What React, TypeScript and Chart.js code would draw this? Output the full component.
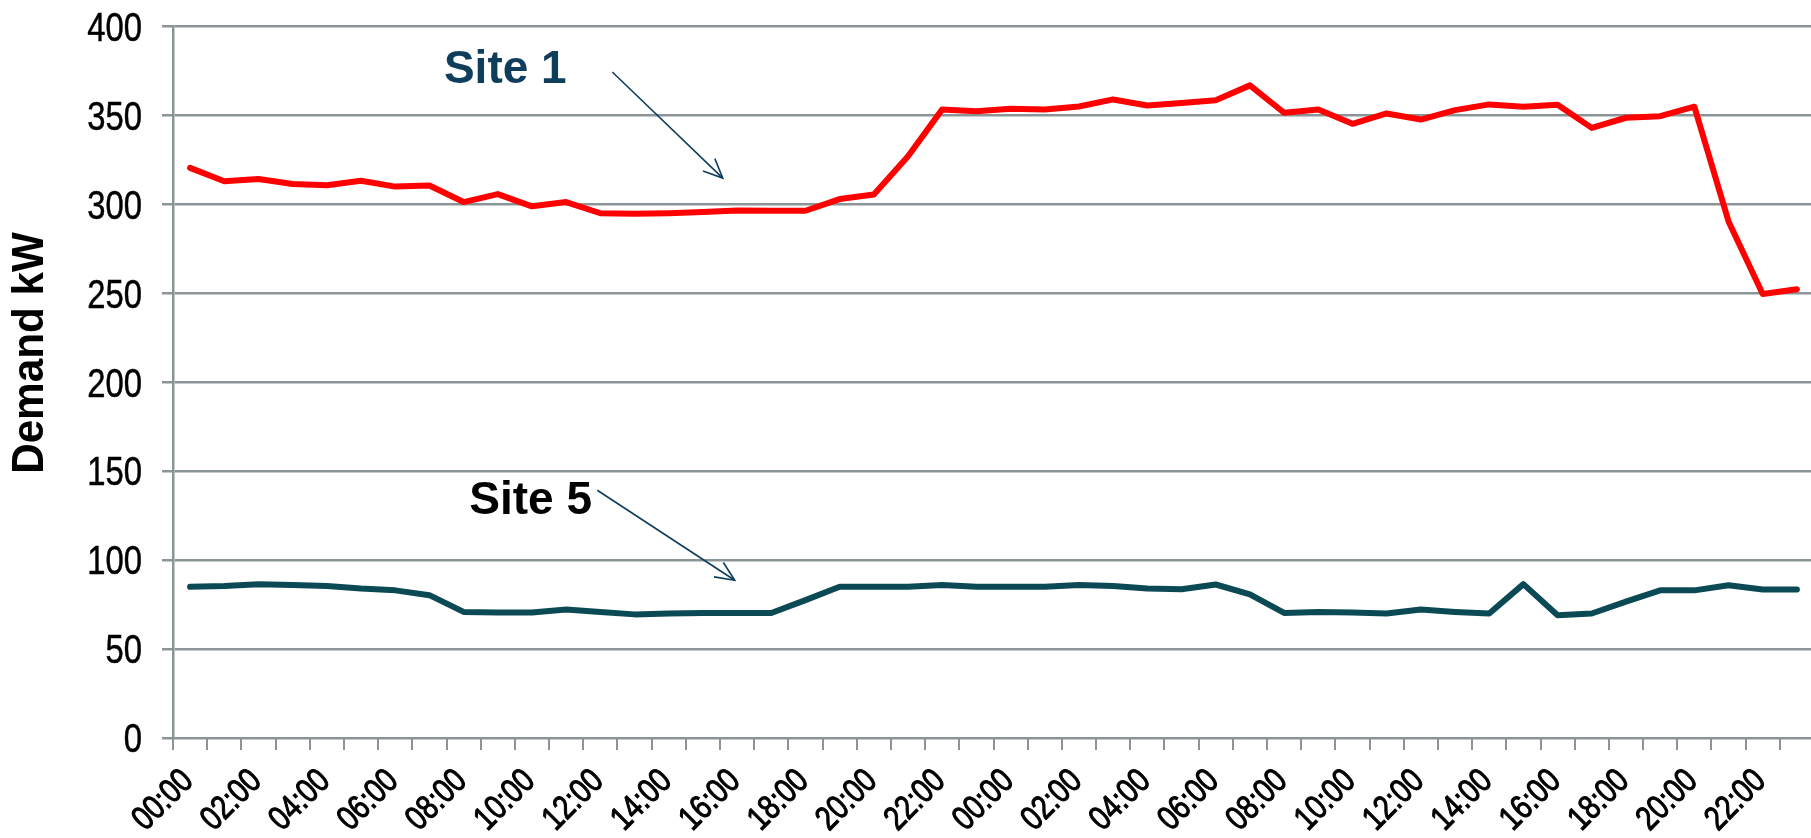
import React, { useEffect, useRef } from 'react';
import { Chart, registerables } from 'chart.js';

Chart.register(...registerables);

const HOURS = [
  '00:00', '01:00', '02:00', '03:00', '04:00', '05:00', '06:00', '07:00',
  '08:00', '09:00', '10:00', '11:00', '12:00', '13:00', '14:00', '15:00',
  '16:00', '17:00', '18:00', '19:00', '20:00', '21:00', '22:00', '23:00',
];
const CATEGORIES = [...HOURS, ...HOURS];

const SITE1 = [
  320.5, 313, 314.3, 311.5, 310.7, 313.3, 310, 310.6, 301.3, 305.8, 298.9, 301.3,
  295, 294.7, 295, 295.7, 296.6, 296.4, 296.4, 303, 305.5, 327, 353.4, 352.4,
  353.8, 353.4, 355, 359, 355.6, 357, 358.6, 366.9, 351.5, 353.4, 345.3, 351.1,
  347.7, 353, 356.2, 354.9, 356, 343, 348.7, 349.6, 354.9, 290.4, 249.6, 252.3,
];
const SITE5 = [
  85, 85.5, 86.5, 86, 85.5, 84, 83, 80.3, 70.9, 70.5, 70.5, 72.2,
  70.9, 69.5, 70, 70.3, 70.3, 70.3, 77.5, 85, 85, 85, 86, 85,
  85, 85, 86, 85.5, 84, 83.6, 86.3, 80.8, 70.3, 70.9, 70.5, 70,
  72.2, 70.9, 70, 86.5, 69, 70, 76.7, 83, 83, 85.9, 83.5, 83.5,
];
const SERIES_NAMES = ['Site 1', 'Site 5'];
const Y_MIN = 0;
const Y_MAX = 400;
const Y_STEP = 50;
const Y_TITLE = 'Demand kW';

const W = 1811;
const H = 838;
const CANVAS_W = 1814;
const GRID = '#8b9597';
const RED = '#ff0000';
const TEAL = '#0b4a55';
const NAVY = '#0f3d5c';
const NARROW = 0.82;

// annotation anchors in data space (category index, value)
const NOTES = [
  { text: 'Site 1', color: NAVY, at: [9.22, 375.3], from: [12.35, 374.4], to: [15.58, 314.8] },
  { text: 'Site 5', color: '#000000', at: [9.96, 132.8], from: [11.91, 139.3], to: [15.93, 88.7] },
];

const drawPlugin = {
  id: 'customText',
  afterDraw(chart: any) {
    const { ctx, scales, chartArea } = chart;
    const x = scales.x;
    const y = scales.y;
    ctx.save();

    // y tick labels (narrow face)
    ctx.fillStyle = '#000';
    ctx.strokeStyle = '#000';
    ctx.lineWidth = 0.5;
    ctx.font = '40px "Liberation Sans", Arial, sans-serif';
    ctx.textAlign = 'right';
    ctx.textBaseline = 'alphabetic';
    for (const t of y.ticks) {
      const py = y.getPixelForValue(t.value);
      ctx.save();
      ctx.translate(chartArea.left - 31, py + 14.3);
      ctx.scale(NARROW, 1);
      ctx.fillText(String(t.value), 0, 0);
      ctx.strokeText(String(t.value), 0, 0);
      ctx.restore();
    }

    // x tick labels, every second category, rotated 45°
    ctx.font = '34px "Liberation Sans", Arial, sans-serif';
    ctx.lineWidth = 1.1;
    CATEGORIES.forEach((lab, i) => {
      if (i % 2 !== 0) return;
      const px = x.getPixelForValue(i);
      ctx.save();
      ctx.translate(px + 4.5, chartArea.bottom + 44.5);
      ctx.rotate(-Math.PI / 4);
      ctx.scale(NARROW, 1);
      ctx.fillText(lab, 0, 0);
      ctx.strokeText(lab, 0, 0);
      ctx.restore();
    });

    // y title
    ctx.save();
    ctx.translate(31, 353);
    ctx.rotate(-Math.PI / 2);
    ctx.scale(0.96, 1);
    ctx.font = 'bold 44px "Liberation Sans", Arial, sans-serif';
    ctx.fillStyle = '#000';
    ctx.textAlign = 'center';
    ctx.textBaseline = 'middle';
    ctx.fillText(Y_TITLE, 0, 0);
    ctx.restore();

    for (const n of NOTES) {
      const tx = x.getPixelForValue(n.at[0]);
      const ty = y.getPixelForValue(n.at[1]);
      ctx.font = 'bold 46px "Liberation Sans", Arial, sans-serif';
      ctx.fillStyle = n.color;
      ctx.textAlign = 'center';
      ctx.textBaseline = 'middle';
      ctx.fillText(n.text, tx, ty);

      const x0 = x.getPixelForValue(n.from[0]);
      const y0 = y.getPixelForValue(n.from[1]);
      const x1 = x.getPixelForValue(n.to[0]);
      const y1 = y.getPixelForValue(n.to[1]);
      ctx.strokeStyle = NAVY;
      ctx.lineWidth = 1.6;
      ctx.beginPath();
      ctx.moveTo(x0, y0);
      ctx.lineTo(x1, y1);
      ctx.stroke();
      const ang = Math.atan2(y1 - y0, x1 - x0);
      const len = 21;
      const spread = 0.42;
      ctx.beginPath();
      ctx.moveTo(x1 - len * Math.cos(ang - spread), y1 - len * Math.sin(ang - spread));
      ctx.lineTo(x1, y1);
      ctx.lineTo(x1 - len * Math.cos(ang + spread), y1 - len * Math.sin(ang + spread));
      ctx.stroke();
    }
    ctx.restore();
  },
};

export default function App() {
  const ref = useRef<HTMLCanvasElement | null>(null);
  useEffect(() => {
    const canvas = ref.current;
    if (!canvas) return;
    const chart = new Chart(canvas, {
      type: 'line',
      data: {
        labels: CATEGORIES,
        datasets: [
          {
            label: SERIES_NAMES[0],
            data: SITE1,
            borderColor: RED,
            borderWidth: 6,
            pointRadius: 0,
            tension: 0,
            borderJoinStyle: 'round',
            borderCapStyle: 'round',
          },
          {
            label: SERIES_NAMES[1],
            data: SITE5,
            borderColor: TEAL,
            borderWidth: 6,
            pointRadius: 0,
            tension: 0,
            borderJoinStyle: 'round',
            borderCapStyle: 'round',
          },
        ],
      },
      options: {
        animation: false,
        responsive: false,
        devicePixelRatio: 1,
        layout: { padding: { top: 26.5, right: 0, bottom: 0, left: 0 } },
        plugins: {
          legend: { display: false },
          tooltip: { enabled: false },
          title: { display: false },
        },
        scales: {
          x: {
            type: 'category',
            offset: true,
            grid: {
              offset: true,
              drawOnChartArea: false,
              drawTicks: true,
              tickLength: 12,
              color: GRID,
              lineWidth: 2,
            },
            border: { display: true, color: GRID, width: 2 },
            ticks: { display: false, autoSkip: false },
            afterFit: (s: any) => {
              s.height = 100;
            },
          },
          y: {
            min: Y_MIN,
            max: Y_MAX,
            grid: {
              color: GRID,
              lineWidth: 2.5,
              drawTicks: true,
              tickLength: 11,
            },
            border: { display: true, color: GRID, width: 2.5 },
            ticks: { display: false, stepSize: Y_STEP },
            afterFit: (s: any) => {
              s.width = 173;
            },
          },
        },
      },
      plugins: [drawPlugin],
    } as any);
    return () => chart.destroy();
  }, []);

  return (
    <div style={{ position: 'fixed', left: 0, top: 0, width: W, height: H, overflow: 'hidden', background: '#fff' }}>
      <canvas ref={ref} width={CANVAS_W} height={H} style={{ display: 'block', width: CANVAS_W, height: H }} />
    </div>
  );
}
